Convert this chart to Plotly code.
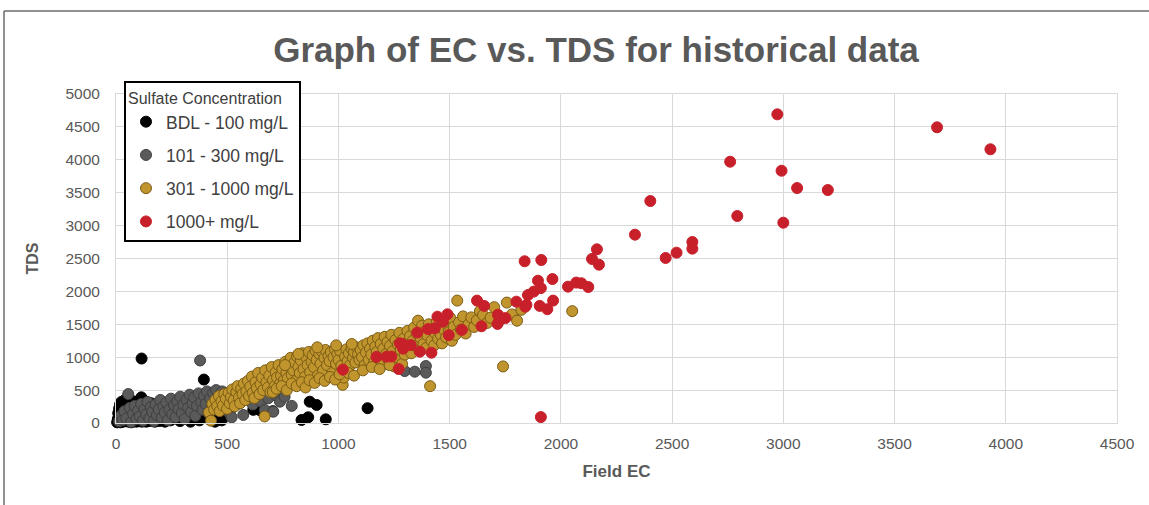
import plotly.graph_objects as go

# ---------------- data (Field EC, TDS) ----------------
bdl_points = [
    (5,10),(8,60),(10,150),(12,30),(14,220),(16,90),(18,280),(20,10),(22,170),(24,320),
    (26,60),(28,240),(30,120),(32,20),(34,300),(36,190),(38,80),(40,350),(42,140),(44,30),
    (46,260),(48,200),(50,70),(52,310),(54,160),(56,20),(58,230),(60,110),(62,360),(64,50),
    (66,280),(68,180),(70,10),(72,250),(74,130),(76,330),(78,70),(80,210),(82,30),(84,290),
    (86,150),(88,100),(90,240),(92,20),(94,320),(96,170),(98,60),(100,270),(102,200),(104,40),
    (106,350),(108,130),(110,80),(112,230),(114,390),(116,20),(118,180),(120,300),(122,100),(124,250),
    (126,40),(128,160),(130,330),(132,80),(134,210),(136,20),(138,280),(140,120),(142,190),(144,50),
    (146,260),(148,140),(150,30),(152,220),(155,90),(158,300),(160,170),(163,50),(166,240),(170,110),
    (174,20),(178,200),(182,270),(186,80),(190,150),(195,30),(200,230),(205,120),(210,60),(215,190),
    (220,20),(226,260),(232,100),(238,170),(245,40),(252,220),(258,140),(265,70),(272,300),(280,180),
    (288,30),(296,110),(305,240),(315,60),(325,160),(335,20),(345,210),(355,90),(365,280),(375,40),
    (385,150),(395,660),(405,230),(418,60),(430,170),(445,20),(460,110),(475,40),(115,980),(617,200),
    (647,195),(632,260),(705,180),(834,46),(864,87),(943,56),(871,324),(902,274),(880,1040),(1131,225),
]
grey_points = [
    (14,25),(22,110),(31,45),(38,180),(47,70),(55,440),(62,230),(68,15),(77,140),(84,260),
    (92,60),(99,190),(107,100),(113,290),(121,35),(128,210),(136,130),(142,320),(150,70),(157,240),
    (163,170),(171,30),(178,280),(184,120),(192,210),(199,350),(206,80),(213,250),(219,160),(227,310),
    (233,40),(240,200),(247,370),(253,130),(261,270),(268,90),(275,330),(281,210),(289,400),(296,150),
    (303,280),(309,60),(317,350),(324,230),(331,430),(337,170),(344,300),(351,390),(357,110),(364,260),
    (371,450),(378,950),(383,320),(389,200),(396,410),(403,290),(409,480),(416,150),(423,370),(430,250),
    (437,460),(444,330),(450,500),(457,200),(464,420),(471,300),(478,480),(485,380),(493,250),(500,450),
    (507,340),(512,140),(520,87),(527,470),(535,380),(546,290),(556,440),(572,122),(585,360),(600,470),
    (615,280),(632,410),(650,330),(669,198),(684,375),(707,172),(722,410),(737,324),(758,400),(790,260),
    (1298,790),(1343,780),(1393,866),(1393,765),
]
gold_points = [
    (418,160),(427,35),(433,290),(441,205),(447,350),(455,260),(463,410),(466,180),(474,330),(481,265),
    (487,440),(494,370),(499,215),(506,460),(511,300),(517,395),(523,510),(529,345),(534,255),(541,470),
    (546,560),(553,390),(558,300),(563,520),(569,440),(575,600),(581,350),(586,480),(593,640),(598,410),
    (604,555),(611,705),(615,460),(622,380),(627,620),(633,530),(639,760),(645,440),(650,590),(657,690),
    (662,500),(668,100),(671,800),(676,620),(683,540),(689,720),(694,470),(700,850),(706,650),(713,560),
    (718,770),(724,690),(731,880),(737,600),(742,720),(748,820),(755,650),(761,930),(766,760),(772,680),
    (779,860),(785,990),(790,730),(797,800),(803,920),(808,640),(814,1010),(820,850),(826,760),(831,950),
    (838,1060),(843,820),(849,700),(856,990),(861,880),(867,1080),(873,770),(879,930),(884,1030),(890,850),
    (897,1100),(902,960),(908,720),(914,1050),(919,900),(925,1090),(931,800),(937,990),(942,1110),(948,880),
    (955,1020),(960,940),(966,1080),(972,760),(978,1000),(984,1120),(989,900),(995,1050),(1001,960),(1007,1100),
    (1013,870),(1019,580),(1024,690),(1030,1010),(1036,1120),(1041,940),(1047,1060),(1053,880),(1059,1130),(1065,990),
    (1070,1080),(1076,920),(1082,1150),(1088,1040),(1094,960),(1100,1110),(1106,1000),(1112,1180),(1118,880),(1124,1070),
    (1130,1210),(1136,960),(1142,1130),(1148,1040),(1154,1250),(1160,920),(1166,1160),(1172,1080),(1178,1290),(1184,980),
    (1190,1200),(1196,880),(1202,1130),(1208,1310),(1214,1050),(1220,1230),(1226,950),(1232,1170),(1238,1340),(1244,1090),
    (1250,860),(1256,1260),(1262,1000),(1268,1190),(1274,1370),(1280,1110),(1286,900),(1292,1280),(1298,1040),(1304,1210),
    (1310,1400),(1316,1140),(1322,1320),(1328,1060),(1334,1250),(1340,1450),(1346,1170),(1352,1360),(1358,1555),(1364,1100),
    (1370,1290),(1376,1480),(1382,1200),(1388,1390),(1394,1140),(1400,1330),(1406,1500),(1412,560),(1418,1250),(1424,1420),
    (1430,1180),(1436,1360),(1442,1540),(1448,1280),(1454,1450),(1460,1340),(1466,1210),(1472,1570),(1478,1400),(1484,1300),
    (1490,1490),(1496,1380),(1502,1600),(1510,1250),(1518,1460),(1526,1340),(1534,1860),(1542,1530),(1550,1420),(1560,1620),
    (1572,1360),(1585,1500),(1597,1605),(1610,1460),(1622,1560),(1636,1700),(1650,1640),(1668,1520),(1684,1600),(1700,1760),
    (1722,1550),(1740,860),(1757,1830),(1780,1650),(1803,1555),(1822,1720),(2051,1700),
    (705,470),(722,520),(745,560),(768,500),(790,600),(812,560),(835,620),(852,540),(870,650),(893,610),
    (915,680),(938,640),(962,700),(985,660),(1005,740),(1045,760),(1070,720),(1110,800),(1150,850),(1185,820),
    (1230,880),(760,880),(820,1050),(905,1150),(990,1180),(1060,1200),
]
red_points = [
    (1020,810),(1171,1005),(1216,1008),(1238,1010),(1271,820),(1276,1211),(1291,1130),(1288,1200),(1325,1185),(1355,1375),
    (1366,1084),(1403,1428),(1418,1068),(1433,1440),(1445,1616),(1470,1540),(1490,1652),(1496,1335),(1555,1415),(1623,1860),
    (1643,1470),(1655,1780),(1715,1505),(1717,1645),(1751,1595),(1800,1844),(1840,1768),(1845,1795),(1837,2458),(1852,1945),
    (1878,1997),(1897,2163),(1905,1780),(1910,2050),(1910,90),(1912,2477),(1939,1730),(1962,2188),(1965,1860),(2032,2072),
    (2069,2134),(2092,2124),(2123,2067),(2140,2493),(2162,2640),(2171,2406),(2333,2862),(2402,3374),(2471,2508),(2520,2589),
    (2591,2650),(2591,2751),(2761,3971),(2793,3146),(2973,4691),(2992,3834),(3000,3044),(3062,3571),(3200,3541),(3691,4494),
    (3931,4160),
]

series_names = ["BDL - 100 mg/L", "101 - 300 mg/L", "301 - 1000 mg/L", "1000+ mg/L"]
series_data = [bdl_points, grey_points, gold_points, red_points]
fill_colors = ["#000000", "#5a5a5a", "#C0952E", "#C8202A"]
line_colors = ["#000000", "#3f3f3f", "#7a5c14", "#C8202A"]

x_ticks = [0, 500, 1000, 1500, 2000, 2500, 3000, 3500, 4000, 4500]
y_ticks = [0, 500, 1000, 1500, 2000, 2500, 3000, 3500, 4000, 4500, 5000]

FONT = "Liberation Sans, Arial, sans-serif"
L, R, T, B = 116, 32, 94, 82
PW, PH = 1149 - L - R, 505 - T - B

fig = go.Figure()
for i, (name, pts) in enumerate(zip(series_names, series_data)):
    fig.add_trace(go.Scatter(
        x=[p[0] for p in pts], y=[p[1] for p in pts],
        mode="markers", name=name, legendgroup=f"g{i}",
        cliponaxis=False,
        marker=dict(size=11, color=fill_colors[i],
                    line=dict(width=1, color=line_colors[i])),
    ))

# outer chart-area border (Excel style)
bx = (4 - L) / PW
by = (505 - B - 11) / PH
fig.add_shape(type="line", xref="paper", yref="paper",
              x0=bx, x1=1.05, y0=by, y1=by,
              line=dict(color="#6b6b6b", width=1.5))
fig.add_shape(type="line", xref="paper", yref="paper",
              x0=bx, x1=bx, y0=by, y1=-0.35,
              line=dict(color="#6b6b6b", width=1.5))

fig.update_layout(
    width=1149, height=505,
    margin=dict(l=L, r=R, t=T, b=B, autoexpand=False),
    paper_bgcolor="white", plot_bgcolor="white",
    font=dict(family=FONT, color="#595959"),
    title=dict(text="<b>Graph of EC vs. TDS for historical data</b>",
               xref="container", yref="container",
               x=596/1149, xanchor="center", y=1-50/505, yanchor="middle",
               font=dict(family=FONT, size=35, color="#595959")),
    legend=dict(x=(124 - L) / PW, y=(505 - B - 81) / PH,
                xanchor="left", yanchor="top",
                bgcolor="white", bordercolor="#000000", borderwidth=2,
                font=dict(family=FONT, size=17.5, color="#404040"),
                title=dict(text="Sulfate Concentration",
                           font=dict(family=FONT, size=16, color="#404040")),
                tracegroupgap=7.5, traceorder="grouped", itemwidth=30),
    xaxis=dict(range=[0, 4500], tickvals=x_ticks, showgrid=True,
               gridcolor="#d9d9d9", gridwidth=1, zeroline=False,
               showline=True, linecolor="#d9d9d9", mirror=True, ticks="",
               ticklabelstandoff=6, automargin=False,
               tickfont=dict(family=FONT, size=15.5, color="#595959"),
               title=dict(text="<b>Field EC</b>", standoff=14,
                          font=dict(family=FONT, size=17, color="#595959"))),
    yaxis=dict(range=[0, 5000], tickvals=y_ticks, showgrid=True,
               gridcolor="#d9d9d9", gridwidth=1, zeroline=False,
               showline=True, linecolor="#d9d9d9", mirror=True, ticks="",
               ticklabelstandoff=12, automargin=False,
               tickfont=dict(family=FONT, size=15.5, color="#595959"),
               title=dict(text="<b>TDS</b>", standoff=22,
                          font=dict(family=FONT, size=16, color="#595959"))),
)

fig.write_html("out.html")
